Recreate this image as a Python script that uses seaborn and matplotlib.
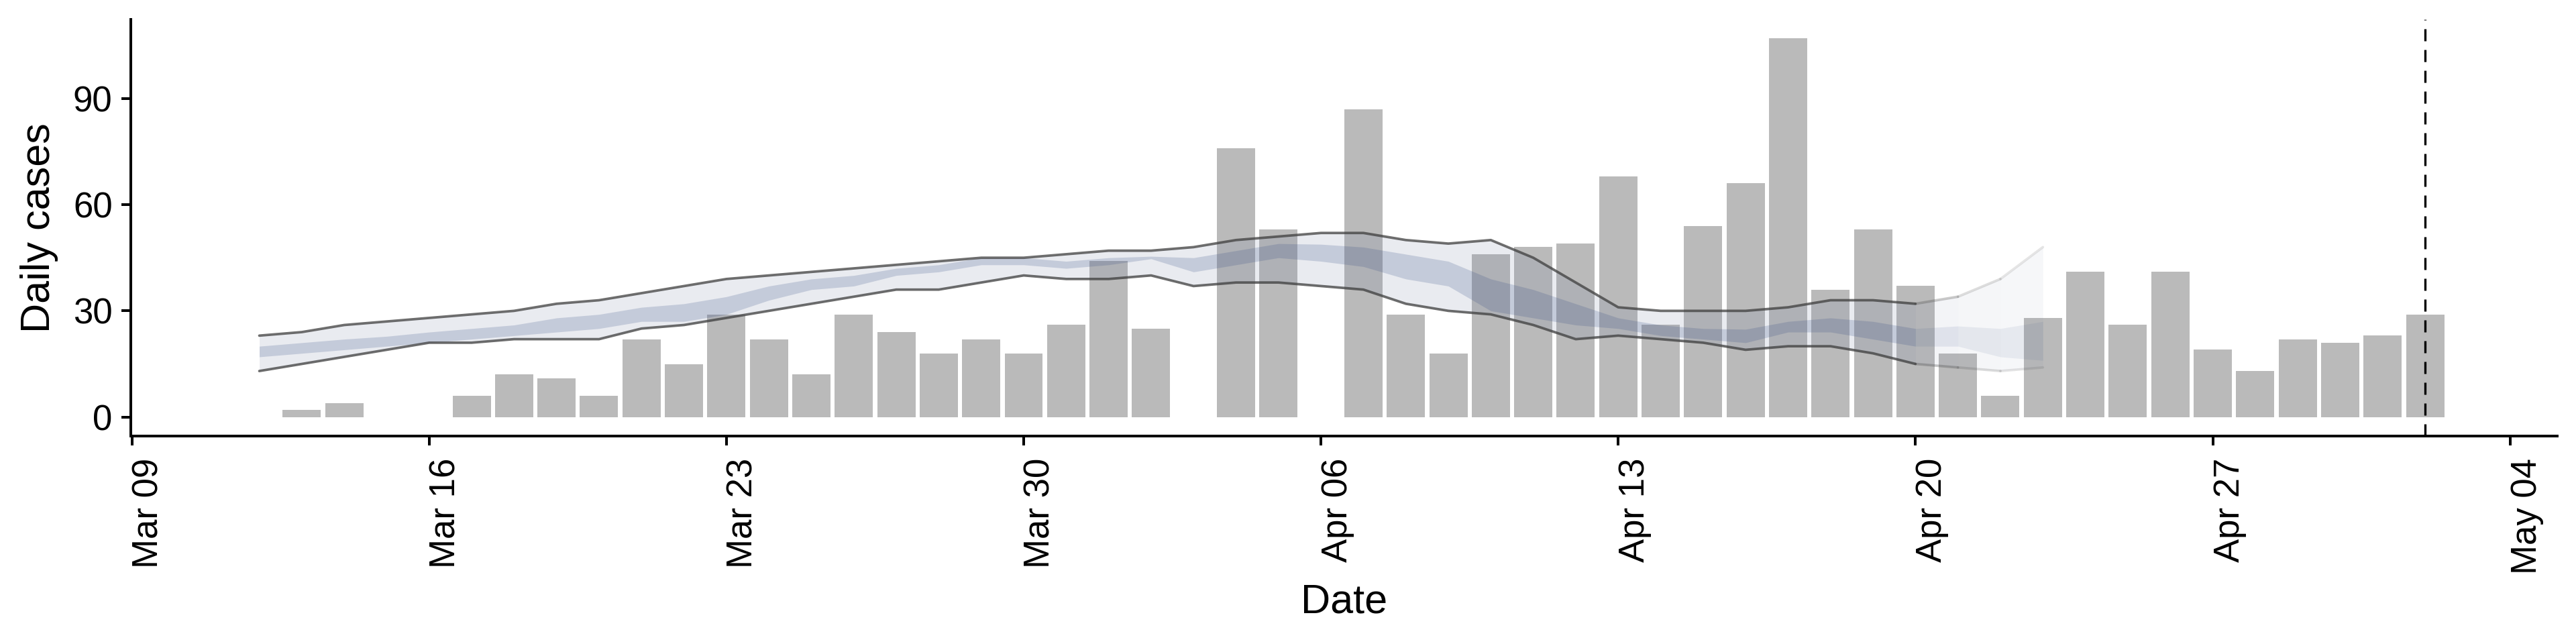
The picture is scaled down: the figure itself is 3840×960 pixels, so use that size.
import numpy as np
import pandas as pd
import matplotlib
matplotlib.use("Agg")
import matplotlib.pyplot as plt
import matplotlib.dates as mdates
import seaborn as sns

# ---------------- data ----------------
case_dates = ["2020-03-13", "2020-03-14", "2020-03-17", "2020-03-18", "2020-03-19",
              "2020-03-20", "2020-03-21", "2020-03-22", "2020-03-23", "2020-03-24",
              "2020-03-25", "2020-03-26", "2020-03-27", "2020-03-28", "2020-03-29",
              "2020-03-30", "2020-03-31", "2020-04-01", "2020-04-02", "2020-04-04",
              "2020-04-05", "2020-04-07", "2020-04-08", "2020-04-09", "2020-04-10",
              "2020-04-11", "2020-04-12", "2020-04-13", "2020-04-14", "2020-04-15",
              "2020-04-16", "2020-04-17", "2020-04-18", "2020-04-19", "2020-04-20",
              "2020-04-21", "2020-04-22", "2020-04-23", "2020-04-24", "2020-04-25",
              "2020-04-26", "2020-04-27", "2020-04-28", "2020-04-29", "2020-04-30",
              "2020-05-01", "2020-05-02"]
case_counts = [2, 4, 6, 12, 11, 6, 22, 15, 29, 22, 12, 29, 24, 18, 22, 18, 26, 44, 25,
               76, 53, 87, 29, 18, 46, 48, 49, 68, 26, 54, 66, 107, 36, 53, 37, 18, 6,
               28, 41, 26, 41, 19, 13, 22, 21, 23, 29]

band_start = "2020-03-12"
band_end = "2020-04-23"
outer_upper = [23, 24, 26, 27, 28, 29, 30, 32, 33, 35, 37, 39, 40, 41, 42, 43, 44, 45, 45, 46,
               47, 47, 48, 50, 51, 52, 52, 50, 49, 50, 45, 38, 31, 30, 30, 30, 31, 33, 33, 32,
               34, 39, 48]
outer_lower = [13, 15, 17, 19, 21, 21, 22, 22, 22, 25, 26, 28, 30, 32, 34, 36, 36, 38, 40, 39,
               39, 40, 37, 38, 38, 37, 36, 32, 30, 29, 26, 22, 23, 22, 21, 19, 20, 20, 18, 15,
               14, 13, 14]
inner_upper = [20, 21, 22, 22.8, 24, 25, 26, 28, 29, 31, 32, 34, 37, 39, 40, 42, 43, 45, 45, 44,
               45, 45.4, 45, 47, 49, 48.8, 48, 46, 44, 39, 36, 32, 28, 26, 25, 24.8, 27, 28, 27, 25,
               25.7, 25, 27]
inner_lower = [17, 18, 19, 20, 21, 22, 23, 24, 25, 27, 27, 29, 33, 36, 37, 40, 41, 43, 43, 42,
               43, 44.7, 41, 43, 45, 44, 42.5, 39, 37, 30, 28, 26, 25, 23, 22, 21, 24, 24, 22, 20,
               20, 17, 16]
fade_start = "2020-04-20"
fill_fade = [0.5, 0.44, 0.4]
line_fade = [0.37, 0.23, 0.17]

report_date = "2020-05-02"
x_ticks_label_fmt = "%b %d"
y_ticks = [0, 30, 60, 90]

# ---------------- style ----------------
sns.set_theme(style="ticks")
plt.rcParams["font.family"] = ["Liberation Sans", "DejaVu Sans"]
plt.rcParams["axes.linewidth"] = 1.44

fig = plt.figure(figsize=(19.2, 4.8), dpi=200)
ax = fig.add_axes([0.0508, 0.323, 0.9419, 0.647])

cases = pd.DataFrame({"date": pd.to_datetime(case_dates), "cases": case_counts})
band_dates = pd.date_range(band_start, band_end, freq="D")
band = pd.DataFrame({"date": band_dates, "ou": outer_upper, "ol": outer_lower,
                     "iu": inner_upper, "il": inner_lower})

# bars
ax.bar(cases["date"], cases["cases"], width=0.9, color="#bababa", zorder=1, linewidth=0)

outer_col = "#7d89a7"
inner_col = "#344c83"
line_col = "#3d3d3d"
a_outer, a_inner, a_line = 0.17, 0.20, 0.75
lw = 1.35

fs = pd.Timestamp(fade_start)
solid = band[band["date"] <= fs]
ax.fill_between(solid["date"], solid["ol"], solid["ou"], color=outer_col, alpha=a_outer,
                linewidth=0, zorder=2)
ax.fill_between(solid["date"], solid["il"], solid["iu"], color=inner_col, alpha=a_inner,
                linewidth=0, zorder=3)
sns.lineplot(data=solid, x="date", y="ou", color=line_col, alpha=a_line, linewidth=lw,
             ax=ax, zorder=4)
sns.lineplot(data=solid, x="date", y="ol", color=line_col, alpha=a_line, linewidth=lw,
             ax=ax, zorder=4)

fade = band[band["date"] >= fs].reset_index(drop=True)
for i in range(len(fade) - 1):
    seg = fade.iloc[i:i + 2]
    ff, lf = fill_fade[i], line_fade[i]
    ax.fill_between(seg["date"], seg["ol"], seg["ou"], color=outer_col, alpha=a_outer * ff,
                    linewidth=0, zorder=2)
    ax.fill_between(seg["date"], seg["il"], seg["iu"], color=inner_col, alpha=a_inner * ff,
                    linewidth=0, zorder=3)
    ax.plot(seg["date"], seg["ou"], color=line_col, alpha=a_line * lf, linewidth=lw, zorder=4)
    ax.plot(seg["date"], seg["ol"], color=line_col, alpha=a_line * lf, linewidth=lw, zorder=4)

ax.axvline(pd.Timestamp(report_date), color="black", linewidth=1.2, dashes=(5.4, 3.9), zorder=5)

# axes
ax.set_xlim(pd.Timestamp("2020-03-09") - pd.Timedelta(minutes=35),
            pd.Timestamp("2020-05-05 02:40"))
ax.set_ylim(-5.35, 112.35)
ax.set_yticks(y_ticks)
ax.xaxis.set_major_locator(mdates.WeekdayLocator(byweekday=mdates.MO))
ax.xaxis.set_major_formatter(mdates.DateFormatter(x_ticks_label_fmt))
ax.tick_params(axis="both", length=4.9, width=1.44, labelsize=19, color="black",
               labelcolor="black")
ax.tick_params(axis="x", pad=7, labelrotation=90)
ax.tick_params(axis="y", pad=5)
for lab in ax.get_xticklabels():
    lab.set_horizontalalignment("left")
ax.set_xlabel("Date", fontsize=22, labelpad=5, color="black")
ax.set_ylabel("Daily cases", fontsize=22, labelpad=8, color="black")
sns.despine(ax=ax)
for s in ["left", "bottom"]:
    ax.spines[s].set_color("black")
    ax.spines[s].set_linewidth(1.44)

fig.savefig("out.png", dpi=200)
